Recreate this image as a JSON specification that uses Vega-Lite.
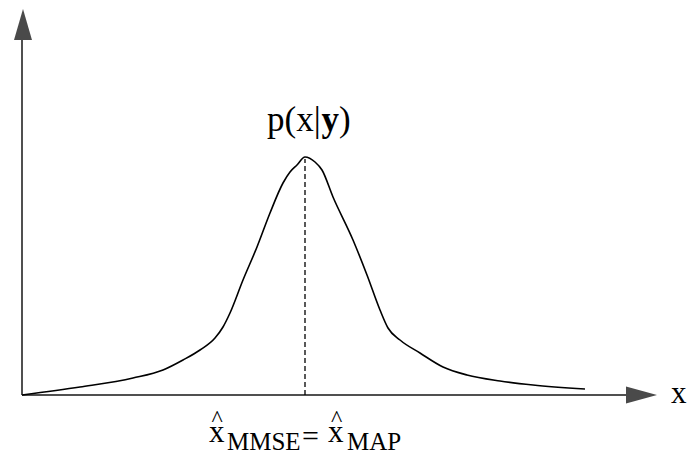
{
  "$schema": "https://vega.github.io/schema/vega-lite/v6.json",
  "width": 689,
  "height": 456,
  "autosize": {"type": "none"},
  "padding": 0,
  "background": "white",
  "config": {"view": {"stroke": null}},
  "datasets": {
    "posterior": [
      {"x": 0.00, "p": 0.00},
      {"x": 0.58, "p": 0.08},
      {"x": 1.11, "p": 0.17},
      {"x": 1.41, "p": 0.25},
      {"x": 1.61, "p": 0.35},
      {"x": 1.78, "p": 0.45},
      {"x": 1.93, "p": 0.57},
      {"x": 2.01, "p": 0.68},
      {"x": 2.08, "p": 0.82},
      {"x": 2.21, "p": 1.15},
      {"x": 2.35, "p": 1.48},
      {"x": 2.48, "p": 1.82},
      {"x": 2.61, "p": 2.12},
      {"x": 2.68, "p": 2.23},
      {"x": 2.75, "p": 2.30},
      {"x": 2.83, "p": 2.38},
      {"x": 2.93, "p": 2.33},
      {"x": 3.00, "p": 2.25},
      {"x": 3.11, "p": 1.98},
      {"x": 3.31, "p": 1.55},
      {"x": 3.45, "p": 1.20},
      {"x": 3.58, "p": 0.85},
      {"x": 3.66, "p": 0.67},
      {"x": 3.78, "p": 0.55},
      {"x": 3.98, "p": 0.42},
      {"x": 4.21, "p": 0.28},
      {"x": 4.45, "p": 0.20},
      {"x": 4.78, "p": 0.14},
      {"x": 5.11, "p": 0.10},
      {"x": 5.63, "p": 0.06}
    ],
    "estimate": [{"x": 2.83, "p0": 0, "p1": 2.36}],
    "axisShafts": [
      {"x0": 0, "x1": 0, "y0": 0, "y1": 3.56},
      {"x0": 0, "x1": 6.05, "y0": 0, "y1": 0}
    ],
    "arrowUp": [{"x": 0.01, "y": 3.705}],
    "arrowRight": [{"x": 6.195, "y": 0}],
    "titleRegular": [
      {"x": 2.45, "y": 2.64, "t": "p(x|"},
      {"x": 3.17, "y": 2.64, "t": ")"}
    ],
    "titleBold": [{"x": 2.995, "y": 2.64, "t": "y"}],
    "bigSymbols": [
      {"x": 6.49, "y": -0.08, "t": "x"},
      {"x": 1.87, "y": -0.47, "t": "x"},
      {"x": 3.06, "y": -0.47, "t": "x"}
    ],
    "subscripts": [
      {"x": 2.05, "y": -0.55, "t": "MMSE"},
      {"x": 3.25, "y": -0.55, "t": "MAP"}
    ],
    "hats": [
      {"x": 1.95, "y": -0.31, "t": "^"},
      {"x": 3.145, "y": -0.31, "t": "^"}
    ],
    "equals": [{"x": 2.80, "y": -0.505, "t": "="}]
  },
  "resolve": {"scale": {"x": "shared", "y": "shared"}},
  "layer": [
    {
      "data": {"name": "axisShafts"},
      "mark": {"type": "rule", "color": "#505050", "strokeWidth": 2},
      "encoding": {
        "x": {"field": "x0", "type": "quantitative", "scale": {"domain": [-0.22, 6.67], "nice": false, "zero": false}, "axis": null},
        "x2": {"field": "x1"},
        "y": {"field": "y0", "type": "quantitative", "scale": {"domain": [-0.61, 3.95], "nice": false, "zero": false}, "axis": null},
        "y2": {"field": "y1"}
      }
    },
    {
      "data": {"name": "arrowUp"},
      "mark": {"type": "point", "shape": "M0,-1L0.58,1L-0.58,1Z", "filled": true, "color": "#4a4a4a", "size": 961, "opacity": 1},
      "encoding": {
        "x": {"field": "x", "type": "quantitative"},
        "y": {"field": "y", "type": "quantitative"}
      }
    },
    {
      "data": {"name": "arrowRight"},
      "mark": {"type": "point", "shape": "M1,0L-1,0.55L-1,-0.55Z", "filled": true, "color": "#4a4a4a", "size": 961, "opacity": 1},
      "encoding": {
        "x": {"field": "x", "type": "quantitative"},
        "y": {"field": "y", "type": "quantitative"}
      }
    },
    {
      "data": {"name": "estimate"},
      "mark": {"type": "rule", "color": "black", "strokeWidth": 1.3, "strokeDash": [5, 3]},
      "encoding": {
        "x": {"field": "x", "type": "quantitative"},
        "y": {"field": "p0", "type": "quantitative"},
        "y2": {"field": "p1"}
      }
    },
    {
      "data": {"name": "posterior"},
      "mark": {"type": "line", "color": "black", "strokeWidth": 1.6, "interpolate": "monotone"},
      "encoding": {
        "x": {"field": "x", "type": "quantitative"},
        "y": {"field": "p", "type": "quantitative"}
      }
    },
    {
      "data": {"name": "titleRegular"},
      "mark": {"type": "text", "font": "Liberation Serif", "fontSize": 35, "align": "left", "baseline": "alphabetic", "color": "black"},
      "encoding": {
        "x": {"field": "x", "type": "quantitative"},
        "y": {"field": "y", "type": "quantitative"},
        "text": {"field": "t"}
      }
    },
    {
      "data": {"name": "titleBold"},
      "mark": {"type": "text", "font": "Liberation Serif", "fontSize": 35, "fontWeight": "bold", "align": "left", "baseline": "alphabetic", "color": "black"},
      "encoding": {
        "x": {"field": "x", "type": "quantitative"},
        "y": {"field": "y", "type": "quantitative"},
        "text": {"field": "t"}
      }
    },
    {
      "data": {"name": "bigSymbols"},
      "mark": {"type": "text", "font": "Liberation Serif", "fontSize": 31, "align": "left", "baseline": "alphabetic", "color": "black"},
      "encoding": {
        "x": {"field": "x", "type": "quantitative"},
        "y": {"field": "y", "type": "quantitative"},
        "text": {"field": "t"}
      }
    },
    {
      "data": {"name": "subscripts"},
      "mark": {"type": "text", "font": "Liberation Serif", "fontSize": 25, "align": "left", "baseline": "alphabetic", "color": "black"},
      "encoding": {
        "x": {"field": "x", "type": "quantitative"},
        "y": {"field": "y", "type": "quantitative"},
        "text": {"field": "t"}
      }
    },
    {
      "data": {"name": "hats"},
      "mark": {"type": "text", "font": "Liberation Serif", "fontSize": 24, "align": "center", "baseline": "alphabetic", "color": "black"},
      "encoding": {
        "x": {"field": "x", "type": "quantitative"},
        "y": {"field": "y", "type": "quantitative"},
        "text": {"field": "t"}
      }
    },
    {
      "data": {"name": "equals"},
      "mark": {"type": "text", "font": "Liberation Serif", "fontSize": 30, "align": "left", "baseline": "alphabetic", "color": "black"},
      "encoding": {
        "x": {"field": "x", "type": "quantitative"},
        "y": {"field": "y", "type": "quantitative"},
        "text": {"field": "t"}
      }
    }
  ]
}
